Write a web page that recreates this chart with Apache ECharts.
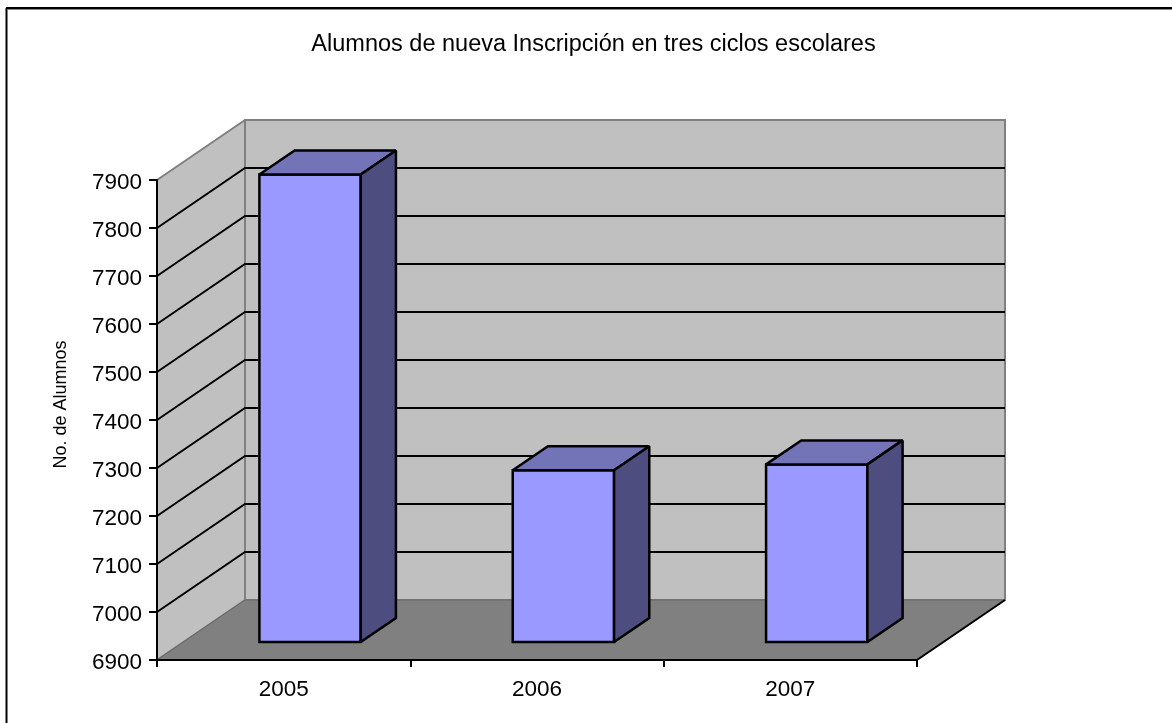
<!DOCTYPE html>
<html>
<head>
<meta charset="utf-8">
<title>Alumnos de nueva Inscripción</title>
<script src="https://cdn.jsdelivr.net/npm/echarts@6/dist/echarts.min.js"></script>
<style>
html,body{margin:0;padding:0;background:#fff;}
#chart{width:1172px;height:723px;}
</style>
</head>
<body>
<div id="chart"></div>
<script>
var categories=["2005","2006","2007"];
var alumnos=[7874,7258,7270];
var gridValues=[7000,7100,7200,7300,7400,7500,7600,7700,7800];
var wallValues=[6900];

var FONT='"Liberation Sans", Arial, sans-serif';
// fake 3d: how far the back wall sits from the axis plane
var DX=88, DY=60;
var BAR_FRONT=0.3, BAR_BACK=0.7, BAR_WIDTH=0.4;

function poly(points,fill,stroke,width){
	return {
		type:"polygon",
		shape:{points:points},
		style:{fill:fill,stroke:stroke,lineWidth:width,lineJoin:"miter",miterLimit:2}
	};
}

function renderWalls(params,api){
	var c=params.coordSys;
	var l=c.x, r=c.x+c.width, t=c.y, b=c.y+c.height;
	return {type:"group",children:[
		poly([[l+DX,t-DY],[r+DX,t-DY],[r+DX,b-DY],[l+DX,b-DY]],"#C0C0C0","#808080",2),
		poly([[l,t],[l+DX,t-DY],[l+DX,b-DY],[l,b]],"#C0C0C0","#808080",2),
		poly([[l,b],[l+DX,b-DY],[r+DX,b-DY],[r,b]],"#808080","#666666",1),
		{type:"line",shape:{x1:r,y1:b,x2:r+DX,y2:b-DY},style:{stroke:"#000",lineWidth:2}}
	]};
}

function renderGridLine(params,api){
	var c=params.coordSys;
	var y=api.coord([0,api.value(0)])[1];
	return {type:"polyline",shape:{points:[[c.x,y],[c.x+DX,y-DY],[c.x+c.width+DX,y-DY]]},
		style:{stroke:"#000",lineWidth:2,fill:null}};
}

function renderBar(params,api){
	var idx=api.value(0);
	var top=api.coord([idx,api.value(1)]);
	var base=api.coord([idx,6900]);
	var w=api.size([1,0])[0]*BAR_WIDTH;
	var x0=top[0]+DX*BAR_FRONT-w/2, x1=x0+w;
	var y0=top[1]-DY*BAR_FRONT, y1=base[1]-DY*BAR_FRONT;
	var ox=DX*(BAR_BACK-BAR_FRONT), oy=DY*(BAR_BACK-BAR_FRONT);
	return {type:"group",children:[
		poly([[x0,y0],[x1,y0],[x1,y1],[x0,y1]],"#9999FF","#000",2.5),
		poly([[x0,y0],[x0+ox,y0-oy],[x1+ox,y0-oy],[x1,y0]],"#7373B8","#000",2.5),
		poly([[x1,y0],[x1+ox,y0-oy],[x1+ox,y1-oy],[x1,y1]],"#4D4D80","#000",2.5)
	]};
}

var myChart=echarts.init(document.getElementById("chart"),null,{renderer:"canvas"});
var option={
	animation:false,
	backgroundColor:"#fff",
	textStyle:{fontFamily:FONT},
	title:{
		text:"Alumnos de nueva Inscripción en tres ciclos escolares",
		left:588.5,
		top:28,
		textAlign:"center",
		textStyle:{fontFamily:FONT,fontSize:23.5,fontWeight:"normal",color:"#000"}
	},
	grid:{left:157,top:180,width:760,height:480},
	xAxis:{
		type:"category",
		data:categories,
		z:10,
		axisLine:{lineStyle:{color:"#000",width:2}},
		axisTick:{show:true,length:7,lineStyle:{color:"#000",width:2}},
		axisLabel:{color:"#000",fontFamily:FONT,fontSize:22.5,margin:18},
		splitLine:{show:false}
	},
	yAxis:{
		type:"value",
		min:6900,
		max:7900,
		interval:100,
		z:10,
		name:"No. de Alumnos",
		nameLocation:"middle",
		nameGap:87,
		nameRotate:90,
		nameTextStyle:{color:"#000",fontFamily:FONT,fontSize:18,padding:[0,0,0,31]},
		axisLine:{show:true,lineStyle:{color:"#000",width:2}},
		axisTick:{show:true,length:8,lineStyle:{color:"#000",width:2}},
		axisLabel:{
			margin:15,
			formatter:function(v){return "{v|"+v+"}";},
			rich:{v:{color:"#000",fontFamily:FONT,fontSize:22.5,padding:[5,0,0,0]}}
		},
		splitLine:{show:false}
	},
	series:[
		{type:"custom",coordinateSystem:"cartesian2d",renderItem:renderWalls,data:wallValues,clip:false,z:1,silent:true},
		{type:"custom",coordinateSystem:"cartesian2d",renderItem:renderGridLine,data:gridValues,encode:{y:0},clip:false,z:2,silent:true},
		{type:"custom",coordinateSystem:"cartesian2d",renderItem:renderBar,
			data:alumnos.map(function(v,i){return [i,v];}),encode:{x:0,y:1},clip:false,z:3}
	],
	graphic:[
		{type:"line",z:20,shape:{x1:6.5,y1:8,x2:6.5,y2:723},style:{stroke:"#000",lineWidth:2}},
		{type:"line",z:20,shape:{x1:6,y1:8,x2:1172,y2:8},style:{stroke:"#000",lineWidth:2}},
		{type:"line",z:19,shape:{x1:8,y1:9.5,x2:1172,y2:9.5},style:{stroke:"#888",lineWidth:1}}
	]
};
myChart.setOption(option);
</script>
</body>
</html>
